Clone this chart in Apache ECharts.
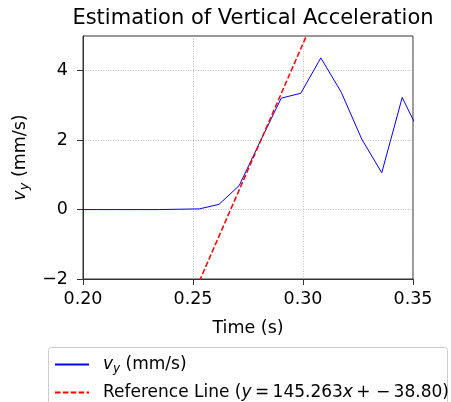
<!DOCTYPE html>
<html>
<head>
<meta charset="utf-8">
<script src="https://cdn.jsdelivr.net/npm/echarts@6/dist/echarts.min.js"></script>
<style>
  html, body { margin: 0; padding: 0; background: #fff; }
  #chart { width: 451px; height: 402px; }
</style>
</head>
<body>
<div id="chart"></div>
<script>
// measured velocity samples
const timeVals = [0.1973, 0.2065, 0.2158, 0.2251, 0.2343, 0.2436, 0.2529, 0.2618, 0.2710, 0.2803, 0.2901, 0.2990, 0.3081, 0.3174, 0.3267, 0.3358, 0.3451, 0.3549];
const vyVals   = [0, 0, 0, 0, 0, 0.01, 0.02, 0.15, 0.69, 1.93, 3.21, 3.35, 4.37, 3.38, 2.03, 1.06, 3.23, 1.96];
// reference line y = 145.263x - 38.80, end points
const refX = [0.25, 0.31];
const refY = [-2.484, 6.232];
const xTicks = [0.20, 0.25, 0.30, 0.35];
const yTicks = [-2, 0, 2, 4];

const FONT = 'DejaVu Sans';
const chart = echarts.init(document.getElementById('chart'));

function richSet(size) {
  return {
    i: { fontFamily: FONT, fontSize: size, fontStyle: 'italic', color: '#000' },
    s: { fontFamily: FONT, fontSize: Math.round(size * 0.72), fontStyle: 'italic', color: '#000', padding: [Math.round(size * 0.5), 0, 0, 0] },
    t: { fontFamily: FONT, fontSize: size, color: '#000' }
  };
}

function legendAt(top, name) {
  return {
    orient: 'vertical',
    left: 49,
    top: top,
    itemWidth: 34,
    itemHeight: 12,
    itemStyle: { opacity: 0 },
    data: [name],
    formatter: function (n) {
      if (n === 'vy') return '{i|v}{s|y}{t| (mm/s)}';
      return '{t|Reference Line (}{i|y}{t|\u2009=\u2009145.263}{i|x}{t|\u2009+ \u2212\u200938.80)}';
    },
    textStyle: { rich: richSet(17), padding: [0, 0, 0, 9] }
  };
}

chart.setOption({
  animation: false,
  title: {
    text: 'Estimation of Vertical Acceleration',
    left: 248,
    textAlign: 'center',
    top: 3,
    textStyle: { fontFamily: FONT, fontSize: 21, fontWeight: 'normal', color: '#000' }
  },
  grid: {
    left: 83, right: 38, top: 36, bottom: 123,
    show: true, borderColor: '#333', borderWidth: 1
  },
  xAxis: {
    type: 'value',
    min: 0.2, max: 0.35, interval: 0.05,
    name: 'Time (s)',
    nameLocation: 'middle',
    nameGap: 40,
    nameTextStyle: { fontFamily: FONT, fontSize: 17.5, color: '#000' },
    axisLine: { show: true, onZero: false, lineStyle: { color: '#333', width: 1 } },
    axisTick: { show: true, inside: false, length: 6, lineStyle: { color: '#333' }, customValues: xTicks },
    axisLabel: {
      margin: 11, fontFamily: FONT, fontSize: 17.5, color: '#000',
      customValues: xTicks,
      formatter: v => v.toFixed(2)
    },
    splitLine: { show: true, lineStyle: { color: '#b0b0b0', type: [1, 1.5], width: 0.8 } }
  },
  yAxis: {
    type: 'value',
    min: -2, max: 5, interval: 2,
    name: '{i|v}{s|y}{t| (mm/s)}',
    nameLocation: 'middle',
    nameRotate: 90,
    nameGap: 48,
    nameTextStyle: { rich: richSet(17.5) },
    axisLine: { show: true, onZero: false, lineStyle: { color: '#333', width: 1 } },
    axisTick: { show: true, inside: false, length: 6, lineStyle: { color: '#333' }, customValues: yTicks },
    axisLabel: {
      margin: 15, fontFamily: FONT, fontSize: 17.5, color: '#000',
      customValues: yTicks,
      formatter: v => (v < 0 ? '\u2212' + Math.abs(v) : String(v))
    },
    splitLine: { show: true, lineStyle: { color: '#b0b0b0', type: [1, 1.5], width: 0.8 } }
  },
  legend: [legendAt(351, 'vy'), legendAt(379, 'ref')],
  graphic: [{
    type: 'rect',
    shape: { x: 48.5, y: 347.5, width: 399, height: 70, r: 3 },
    style: { fill: 'none', stroke: '#cccccc', lineWidth: 1 },
    z: 0
  }],
  series: [
    {
      name: 'vy',
      type: 'line',
      symbol: 'none',
      clip: true,
      lineStyle: { color: '#0000ff', width: 1 },
      itemStyle: { color: '#0000ff' },
      data: timeVals.map((t, i) => [t, vyVals[i]]),
      z: 3
    },
    {
      name: 'ref',
      type: 'line',
      symbol: 'none',
      clip: true,
      lineStyle: { color: '#ff0000', width: 1.5, type: [5.5, 2.4] },
      itemStyle: { color: '#ff0000' },
      data: refX.map((x, i) => [x, refY[i]]),
      z: 4
    }
  ]
});
</script>
</body>
</html>
